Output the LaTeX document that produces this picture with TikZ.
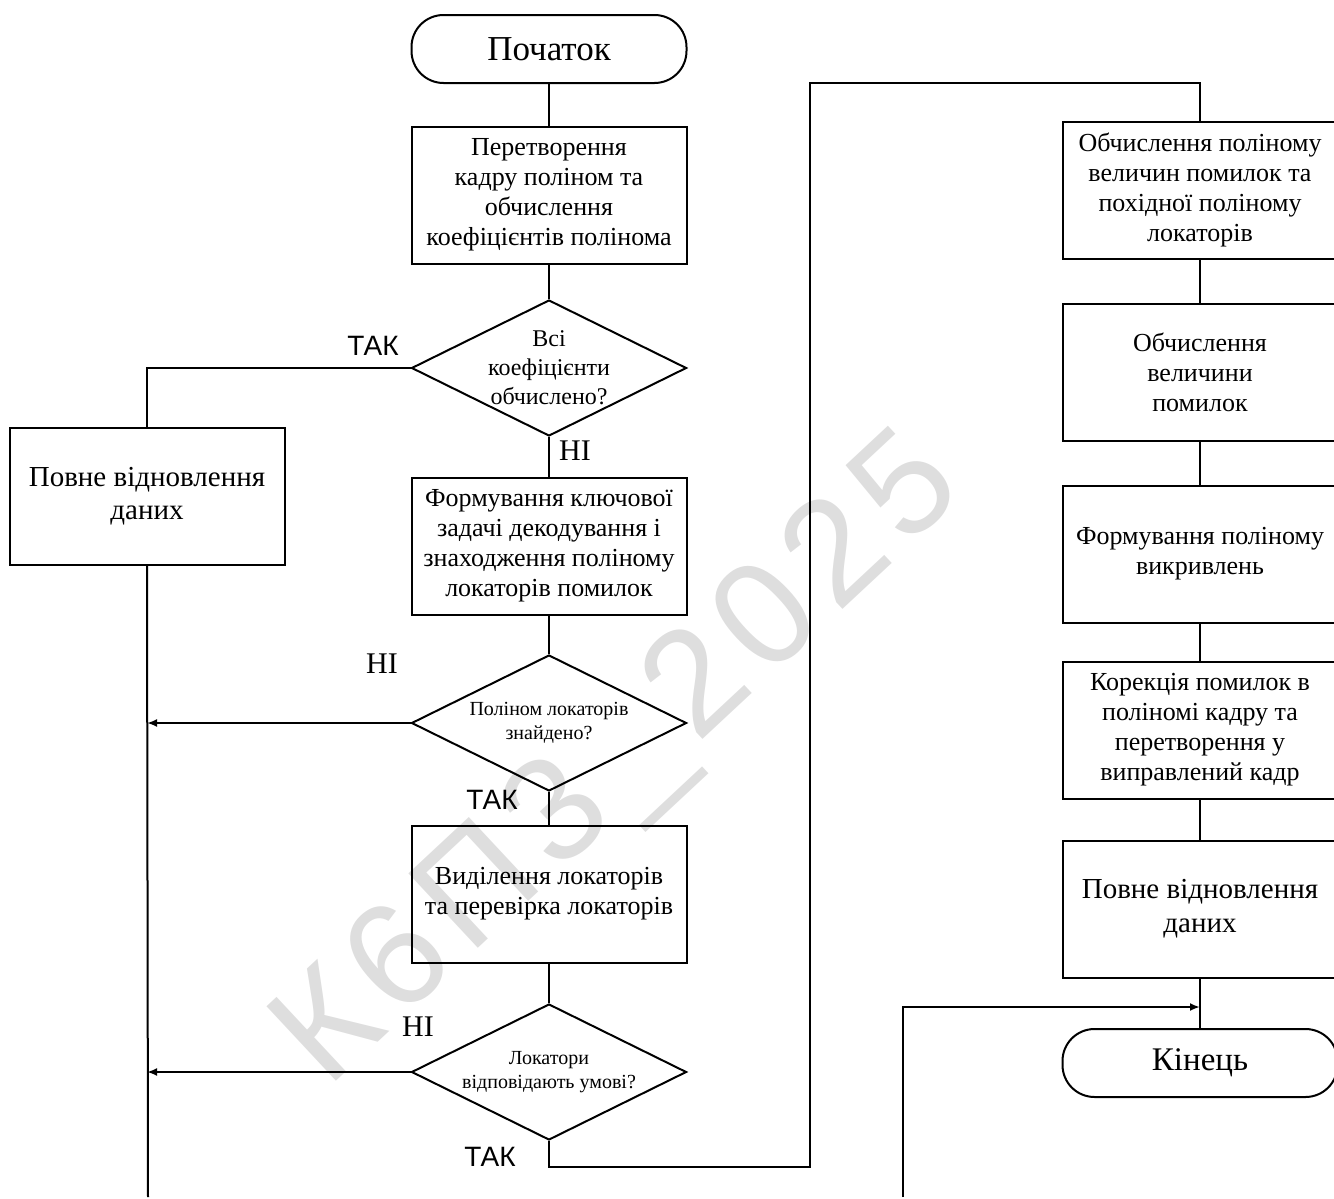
\documentclass[tikz,border=0pt]{standalone}
\usepackage{fontspec}
\setmainfont{Liberation Serif}
\newfontfamily\lblfont{Liberation Sans}
\newfontfamily\wmfont[LetterSpace=9]{Liberation Sans}
\usetikzlibrary{arrows.meta}
\usetikzlibrary{shapes.geometric}

\begin{document}
\begin{tikzpicture}[x=0.5pt,y=-0.5pt]
\tikzset{>={Latex[width=4pt,length=5pt]}}
\tikzstyle{block} =[rectangle, draw, line width=1pt, minimum width=137.5pt, minimum height=68.5pt, inner sep=0pt, align=center, font=\fontsize{13}{15}\selectfont]
\tikzstyle{term} =[block, minimum height=34pt, rounded corners=16pt, font=\fontsize{17.5}{20}\selectfont]
\tikzstyle{decision} =[diamond, draw, line width=1pt, minimum width=137.5pt, minimum height=68pt, inner sep=0pt]
\tikzstyle{qtext} =[align=center, inner sep=0pt, font=\fontsize{12}{14.5}\selectfont]
\tikzstyle{qsmall} =[qtext, font=\fontsize{10}{12}\selectfont]
\tikzstyle{answer} =[inner sep=0pt, font=\lblfont\fontsize{14}{15}\selectfont]
\tikzstyle{answerno} =[inner sep=0pt, font=\fontsize{15}{15}\selectfont]
\tikzstyle{link} =[line width=1pt]

\useasboundingbox (0,0) rectangle (1334,1199);

% watermark
\node[rotate=43, text=black!13, font=\wmfont\fontsize{74}{74}\selectfont] (wm) at (622,764) {К6П3\_2025};

% left column
\node[term] (t1) at (549,49) {Початок};
\node[block] (b1) at (549,195) {Перетворення\\кадру поліном та\\обчислення\\коефіцієнтів полінома};
\node[decision,label={[qtext]center:{Всі\\коефіцієнти\\обчислено?}}] (d1) at (549,368) {};
\node[block, font=\fontsize{14.5}{16.5}\selectfont] (b0) at (147,496) {Повне відновлення\\даних};
\node[block] (b2) at (549,546) {Формування ключової\\задачі декодування і\\знаходження поліному\\локаторів помилок};
\node[decision,label={[qsmall]center:{Поліном локаторів\\знайдено?}}] (d2) at (549,723) {};
\node[block] (b3) at (549,894) {Виділення локаторів\\та перевірка локаторів};
\node[decision,label={[qsmall]center:{Локатори\\відповідають умові?}}] (d3) at (549,1072) {};

% right column
\node[block] (b4) at (1200,190) {Обчислення поліному\\величин помилок та\\похідної поліному\\локаторів};
\node[block] (b5) at (1200,372) {Обчислення\\величини\\помилок};
\node[block] (b6) at (1200,554) {Формування поліному\\викривлень};
\node[block] (b7) at (1200,730) {Корекція помилок в\\поліномі кадру та\\перетворення у\\виправлений кадр};
\node[block, font=\fontsize{14.5}{17}\selectfont] (b8) at (1200,909) {Повне відновлення\\даних};
\node[term, font=\fontsize{16.5}{20}\selectfont] (t2) at (1200,1063) {Кінець};

% answers
\node[answer] (a1) at (373,346) {ТАК};
\node[answerno] (a2) at (575,451) {НІ};
\node[answerno] (a3) at (382,664) {НІ};
\node[answer] (a4) at (492,800) {ТАК};
\node[answerno] (a5) at (418,1027) {НІ};
\node[answer] (a6) at (490,1157) {ТАК};

% free ends and bends
\coordinate (lend) at (148,1197);
\coordinate (c1) at (810,1167);
\coordinate (c2) at (1200,83);
\coordinate (rend) at (903,1197);
\coordinate (j1) at (1200,1007);

\draw[link] (t1) -- (b1);
\draw[link] (b1) -- (d1);
\draw[link] (d1.west) -| (b0.north);
\draw[link] (b0.south) -- (lend);
\draw[link] (d1.south) -- (b2);
\draw[link] (b2) -- (d2);
\draw[link,->] (d2.west) -- (d2.west -| b0.south);
\draw[link] (d2.south) -- (b3);
\draw[link] (b3) -- (d3);
\draw[link,->] (d3.west) -- (d3.west -| b0.south);
\draw[link] (d3.south) |- (c1) |- (c2) -- (b4.north);
\draw[link] (b4) -- (b5);
\draw[link] (b5) -- (b6);
\draw[link] (b6) -- (b7);
\draw[link] (b7) -- (b8);
\draw[link] (b8) -- (t2);
\draw[link,->] (rend) |- (j1);
\end{tikzpicture}
\end{document}
